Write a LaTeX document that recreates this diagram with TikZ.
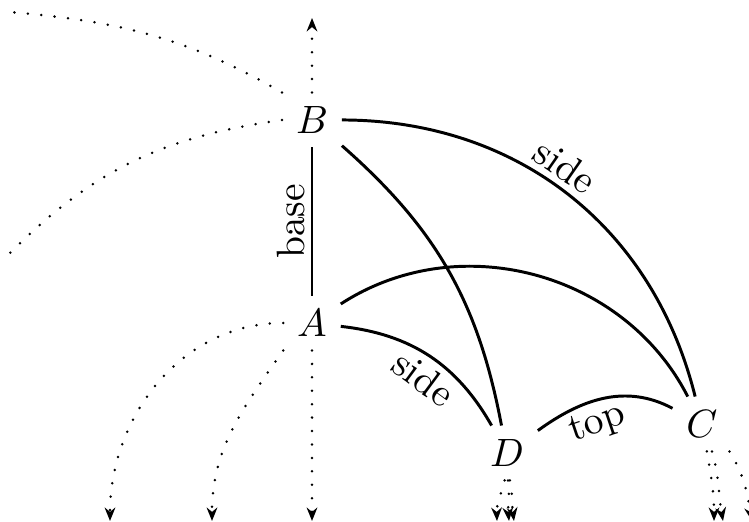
\documentclass[tikz,border=0pt]{standalone}
\usetikzlibrary{arrows.meta}

\begin{document}
\begin{tikzpicture}[x=0.00889cm, y=-0.00889cm,
        edge/.style={line width=0.75pt},
        lbl/.style={sloped, inner sep=1.5pt},
        off/.style={line width=0.7pt, line cap=round,
          dash pattern=on 0pt off 3.4pt},
        cont/.style={off, -{Stealth[length=3.4pt, width=2.7pt]}}]

      \useasboundingbox (0,0) rectangle (749,522);
      \clip (0,0) rectangle (749,522);

      \node (B) at (312,120) {$B$};
      \node (A) at (312,323) {$A$};
      \node (D) at (507,453) {$D$};
      \node (C) at (702,424) {$C$};

      % loose ends leaving the frame
      \coordinate (bUp) at (312,18);
      \coordinate (bFar) at (10,12);
      \coordinate (bLow) at (10,253);
      \coordinate (aL) at (110,521);
      \coordinate (aM) at (212,521);
      \coordinate (aD) at (312,521);
      \coordinate (dL) at (497,521);
      \coordinate (dM) at (509,521);
      \coordinate (dR) at (514,521);
      \coordinate (cL) at (714,521);
      \coordinate (cM) at (723,521);
      \coordinate (cR) at (752,521);

      \draw[edge] (A) -- node[lbl, above] {base} (B);
      \draw[edge] (B) to[bend left=38] node[lbl, above, pos=0.46] {side} (C);
      \draw[edge] (B) to[bend left=19] (D);
      \draw[edge] (A) to[bend left=48] (C);
      \draw[edge] (A) to[bend left=27] node[lbl, below, pos=0.55] {side} (D);
      \draw[edge] (D) to[out=36, in=152] node[lbl, below, pos=0.4] {top} (C);

      \draw[cont] (B) -- (bUp);
      \draw[off] (B.north west) to[out=150, in=-5] (bFar);
      \draw[off] (B.west) to[out=188, in=45] (bLow);

      \draw[cont] (A.west) to[out=180, in=90] (aL);
      \draw[cont] (A.south west) to[out=235, in=90] (aM);
      \draw[cont] (A) -- (aD);

      \draw[cont] (D.-95) to[out=-105, in=92] (dL);
      \draw[cont] (D.-88) to[out=-82, in=95] (dM);
      \draw[cont] (D.-84) to[out=-78, in=98] (dR);

      \draw[cont] (C.-80) to[out=-80, in=90] (cL);
      \draw[cont] (C.-70) to[out=-74, in=100] (cM);
      \draw[cont] (C.-45) to[out=-58, in=100] (cR);
    \end{tikzpicture}
\end{document}
